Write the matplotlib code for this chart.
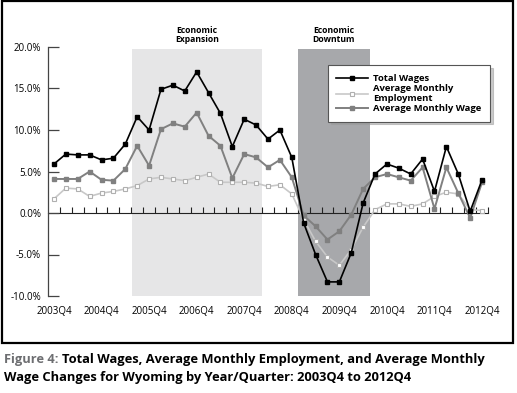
import numpy as np
import matplotlib
matplotlib.use('Agg')
import matplotlib.pyplot as plt
from matplotlib.patches import Rectangle

plt.rcParams['font.family'] = ['Open Sans', 'DejaVu Sans']

# percent change, 2003Q4 .. 2012Q4
total_wages = [5.9, 7.1, 7.0, 7.0, 6.4, 6.6, 8.3, 11.6, 10.0, 14.9, 15.4, 14.7, 17.0,
               14.5, 12.0, 8.0, 11.3, 10.6, 8.9, 10.0, 6.7, -1.2, -5.0, -8.3, -8.3,
               -4.8, 1.2, 4.7, 5.9, 5.4, 4.7, 6.5, 2.6, 8.0, 4.7, 0.2, 4.0]
avg_employment = [1.7, 3.0, 2.9, 2.0, 2.4, 2.6, 2.9, 3.3, 4.1, 4.3, 4.1, 3.9, 4.3,
                  4.7, 3.7, 3.7, 3.7, 3.6, 3.2, 3.4, 2.3, -0.8, -3.4, -5.3, -6.3,
                  -4.4, -1.7, 0.4, 1.1, 1.1, 0.8, 1.1, 2.0, 2.5, 2.3, 0.4, 0.3]
avg_wage = [4.1, 4.1, 4.1, 5.0, 4.0, 3.9, 5.3, 8.1, 5.7, 10.1, 10.8, 10.4, 12.1,
            9.3, 8.1, 4.2, 7.1, 6.7, 5.5, 6.4, 4.3, -0.3, -1.6, -3.2, -2.2,
            -0.2, 2.9, 4.3, 4.7, 4.3, 3.9, 5.5, 0.5, 5.5, 2.4, -0.6, 3.7]

year_labels = ['2003Q4', '2004Q4', '2005Q4', '2006Q4', '2007Q4',
               '2008Q4', '2009Q4', '2010Q4', '2011Q4', '2012Q4']
ytick_vals = [-10, -5, 0, 5, 10, 15, 20]
ytick_labels = ['-10.0%', '-5.0%', '0.0%', '5.0%', '10.0%', '15.0%', '20.0%']

expansion = (6.6, 17.5)
downturn = (20.5, 26.55)

x = np.arange(len(total_wages))

fig = plt.figure(figsize=(5.17, 3.93), dpi=100)
ax = fig.add_axes([48/517, 1 - 296/393, 440/517, 249/393])

ax.axvspan(*expansion, ymin=0, ymax=0.993, color='#e6e6e7', lw=0, zorder=0)
ax.axvspan(*downturn, ymin=0, ymax=0.993, color='#a7a8ab', lw=0, zorder=0)

ax.plot(x, avg_employment, color='#c8c8c8', lw=1.2, marker='s', ms=3.2,
        mfc='white', mec='#b0b0b0', mew=0.8, label='Average Monthly\nEmployment', zorder=3)
ax.plot(x, avg_wage, color='#808080', lw=1.4, marker='s', ms=3.3,
        mfc='#808080', mec='#808080', label='Average Monthly Wage', zorder=4)
ax.plot(x, total_wages, color='black', lw=1.2, marker='s', ms=3.0,
        mfc='black', mec='black', label='Total Wages', zorder=5)

ax.set_xlim(-0.5, len(x) - 0.5)
ax.set_ylim(-10, 20)

for s in ['top', 'right', 'bottom']:
    ax.spines[s].set_visible(False)
ax.spines['left'].set_color('#444444')
ax.spines['left'].set_linewidth(0.9)

ax.set_yticks(ytick_vals)
ax.set_yticklabels(ytick_labels)
ax.tick_params(axis='y', direction='in', length=8, width=0.9, color='#444444',
               labelsize=7, pad=5)
ax.set_xticks(x[::4])
ax.set_xticklabels(year_labels)
ax.tick_params(axis='x', length=0, labelsize=7, pad=7)

# zero line with quarter ticks
zax = ax.secondary_xaxis(1/3)
zax.set_xticks(np.arange(len(x)) + 0.5)
zax.set_xticklabels([])
zax.tick_params(axis='x', direction='in', length=4.5, width=0.8, color='#222222')
zax.spines['bottom'].set_color('#222222')
zax.spines['bottom'].set_linewidth(0.8)
zax.spines['top'].set_visible(False)

ax.text(sum(expansion) / 2, 20.4, 'Economic\nExpansion', ha='center', va='bottom',
        fontsize=6.2, fontweight='bold', linespacing=0.95)
ax.text(sum(downturn) / 2, 20.4, 'Economic\nDowntum', ha='center', va='bottom',
        fontsize=6.2, fontweight='bold', linespacing=0.95)

handles, labels = ax.get_legend_handles_labels()
order = [2, 0, 1]
leg = ax.legend([handles[i] for i in order], [labels[i] for i in order],
                loc='upper left', bbox_to_anchor=(0.625, 0.945), fontsize=6.8,
                handlelength=3.4, handletextpad=0.5, borderpad=0.9, labelspacing=0.1,
                frameon=True, fancybox=False, shadow={'color': '#999999', 'alpha': 0.5})
leg.get_frame().set_edgecolor('#555555')
leg.get_frame().set_linewidth(0.8)
for t in leg.get_texts():
    t.set_fontweight('bold')

# outer frame
fig.patches.append(Rectangle((2/517, 1 - 343/393), 511/517, 342/393, transform=fig.transFigure,
                             fill=False, ec='black', lw=1.6))

fig.canvas.draw()
r = fig.canvas.get_renderer()
t1 = fig.text(4/517, 1 - 360/393, 'Figure 4:', color='#6d6e71', fontsize=9.3,
              fontweight='bold', va='center')
bb = t1.get_window_extent(r)
fig.text(bb.x1 / fig.bbox.width + 3/517, 1 - 360/393,
         'Total Wages, Average Monthly Employment, and Average Monthly',
         fontsize=9.3, fontweight='bold', va='center')
fig.text(4/517, 1 - 378/393, 'Wage Changes for Wyoming by Year/Quarter: 2003Q4 to 2012Q4',
         fontsize=9.3, fontweight='bold', va='center')

fig.savefig('out.png', dpi=100)
